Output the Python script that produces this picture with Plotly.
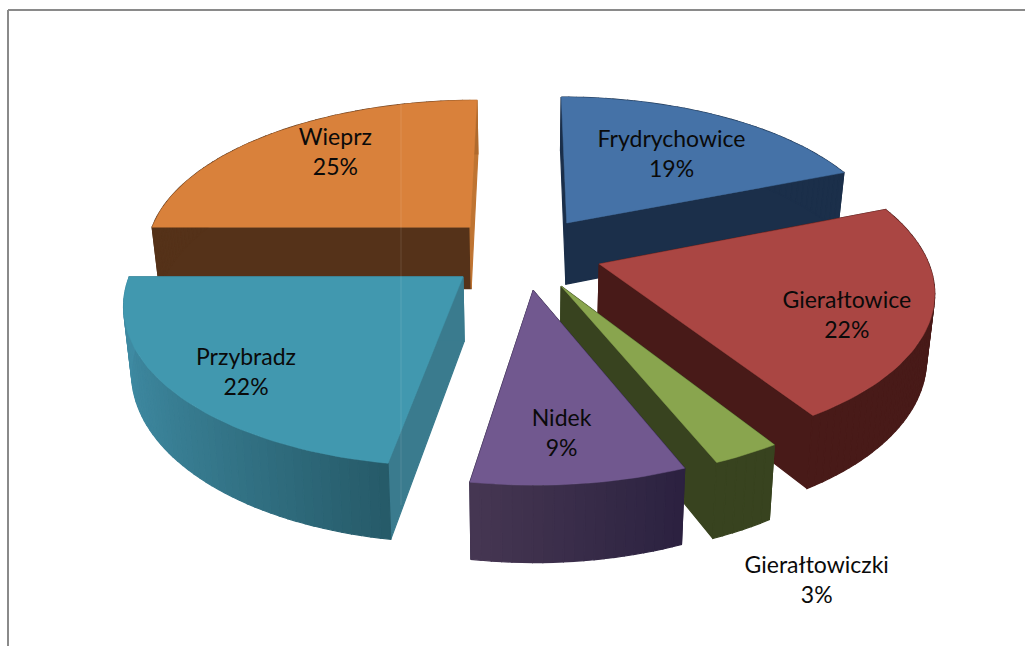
import math
import plotly.graph_objects as go

# ---- data ----
categories = ["Frydrychowice", "Gierałtowice", "Gierałtowiczki", "Nidek", "Przybradz", "Wieprz"]
values = [19, 22, 2.8, 8.8, 22.4, 25]

# ---- styles ----
top_colors = ["#4572a7", "#aa4643", "#89a54e", "#71588f", "#4198af", "#d9813b"]
wall_from = ["#1b2f4a", "#481a18", "#38431f", "#463752", "#3f8ba3", "#553219"]
wall_to = ["#1b2f4a", "#481a18", "#38431f", "#2b2140", "#265a68", "#bf7432"]
wall_power = [1, 1, 1, 1, 1, 12]
edge_start = ["#1b2f4a", "#481a18", "#38431f", "#2b2140", "#3a7b8e", "#553219"]
edge_end = ["#1b2f4a", "#481a18", "#38431f", "#2b2140", "#3a7b8e", "#bf7432"]
paint_order = [0, 5, 1, 2, 4, 3]
label_angle = [36.5, 114.8, 158.1, 174.8, 226.1, 319.1]
label_radius = [0.613, 0.774, 1.524, 0.779, 0.803, 0.719]

CX, CY = 524, 252.5
SX, SY = 326, 153
PERSP = 0.15
EXPLODE = 0.24
DEPTH = 63
BOTTOM_X = 0.98


def project(x, z, low=False):
    s = 1 / (1 + PERSP * z)
    if low:
        return CX + BOTTOM_X * SX * x * s, CY + (-SY * z + DEPTH) * s
    return CX + SX * x * s, CY - SY * z * s


def hex_mix(a, b, t):
    ca = [int(a[i:i + 2], 16) for i in (1, 3, 5)]
    cb = [int(b[i:i + 2], 16) for i in (1, 3, 5)]
    return "rgb(%d,%d,%d)" % tuple(round(p + (q - p) * t) for p, q in zip(ca, cb))


fig = go.Figure()


def poly(pts, color, width=1.2):
    xs = [p[0] for p in pts] + [pts[0][0]]
    ys = [p[1] for p in pts] + [pts[0][1]]
    fig.add_trace(go.Scatter(x=xs, y=ys, mode="lines", fill="toself", fillcolor=color,
                             line=dict(color=color, width=width), hoverinfo="skip", showlegend=False))


total = sum(values)
spans = []
acc = 0
for v in values:
    spans.append((acc, acc + 360 * v / total))
    acc += 360 * v / total

apex = []
for a0, a1 in spans:
    m = math.radians((a0 + a1) / 2)
    apex.append((EXPLODE * math.sin(m), EXPLODE * math.cos(m)))

for i in paint_order:
    a0, a1 = spans[i]
    ax, az = apex[i]
    n = max(4, int((a1 - a0) / 1.5))
    rim = []
    for k in range(n + 1):
        t = math.radians(a0 + (a1 - a0) * k / n)
        rim.append((ax + math.sin(t), az + math.cos(t)))
    # radial walls
    for (wx, wz), c in ((rim[0], edge_start[i]), (rim[-1], edge_end[i])):
        poly([project(ax, az), project(wx, wz), project(wx, wz, True), project(ax, az, True)], c)
    # outer wall with gradient running from screen left to right
    xmin, xmax = min(p[0] for p in rim), max(p[0] for p in rim)
    for j in range(n):
        p, q = rim[j], rim[j + 1]
        t = ((p[0] + q[0]) / 2 - xmin) / (xmax - xmin)
        poly([project(*p), project(*q), project(*q, True), project(*p, True)],
             hex_mix(wall_from[i], wall_to[i], t ** wall_power[i]))
    # top face
    poly([project(ax, az)] + [project(*p) for p in rim], top_colors[i], 0.5)

# labels
name_x, name_y, pct_x, pct_y, pct_t = [], [], [], [], []
for i, name in enumerate(categories):
    ax, az = apex[i]
    t = math.radians(label_angle[i])
    lx, ly = project(ax + label_radius[i] * math.sin(t), az + label_radius[i] * math.cos(t))
    name_x.append(lx)
    name_y.append(ly - 15)
    pct_x.append(lx)
    pct_y.append(ly + 15)
    pct_t.append("%d%%" % int(100 * values[i] / total + 0.5))

font = dict(family="Lato", size=23, color="#0a0a0a")
fig.add_trace(go.Scatter(x=name_x, y=name_y, mode="text", text=categories, textposition="middle center",
                         textfont=font, hoverinfo="skip", showlegend=False, cliponaxis=False))
fig.add_trace(go.Scatter(x=pct_x, y=pct_y, mode="text", text=pct_t, textposition="middle center",
                         textfont=font, hoverinfo="skip", showlegend=False, cliponaxis=False))

fig.update_layout(
    width=1025, height=646, autosize=False,
    margin=dict(l=0, r=0, t=0, b=0),
    paper_bgcolor="white", plot_bgcolor="white",
    showlegend=False,
    xaxis=dict(range=[0, 1025], visible=False, fixedrange=True),
    yaxis=dict(range=[646, 0], visible=False, fixedrange=True),
    shapes=[
        dict(type="line", xref="x", yref="y", x0=8, y0=10, x1=1025, y1=10, line=dict(color="#8a8a8a", width=2)),
        dict(type="line", xref="x", yref="y", x0=8, y0=10, x1=8, y1=646, line=dict(color="#8a8a8a", width=2)),
        dict(type="line", xref="x", yref="y", x0=401, y0=104, x1=401, y1=505,
             line=dict(color="rgba(255,255,255,0.12)", width=1)),
    ],
)
fig.write_html("out.html", config={"displayModeBar": False},
               post_script="document.body.style.margin='0';document.documentElement.style.overflow='hidden';")
